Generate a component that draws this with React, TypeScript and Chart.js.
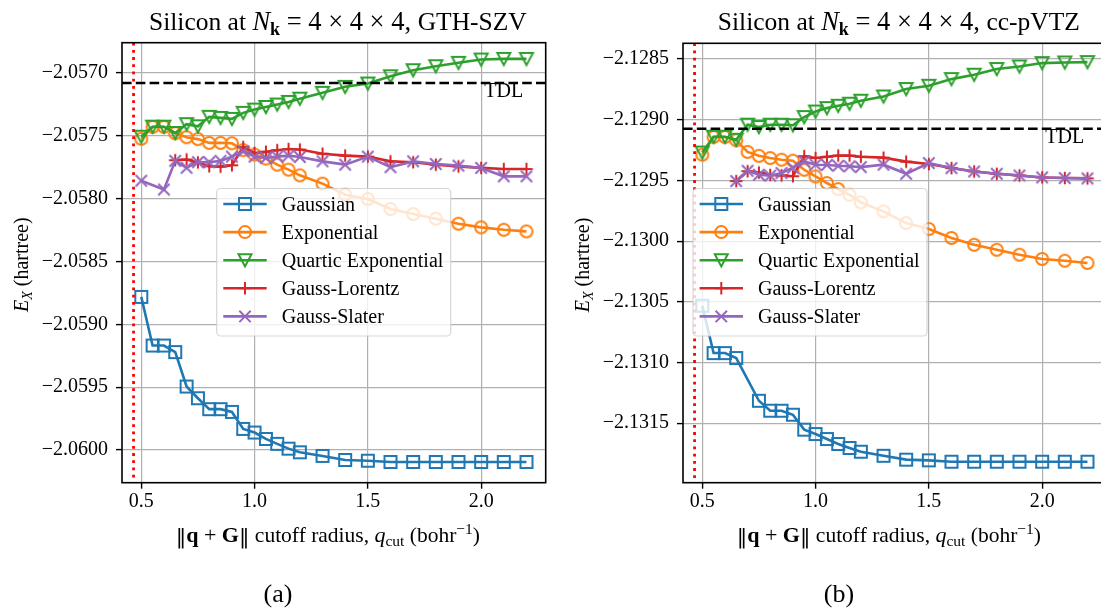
import React, { useEffect, useRef } from "react";
import { Chart, registerables } from "chart.js";

Chart.register(...registerables);

// Cutoff radii q_cut (bohr^-1) shared by every series
const qCut = [0.5, 0.55, 0.6, 0.65, 0.7, 0.75, 0.8, 0.85, 0.9, 0.95, 1.0, 1.05, 1.1, 1.15, 1.2, 1.3, 1.4, 1.5, 1.6, 1.7, 1.8, 1.9, 2.0, 2.1, 2.2];
const xTicks = [0.5, 1.0, 1.5, 2.0];
const xRange = [0.415, 2.285];

const seriesNames = ["Gaussian", "Exponential", "Quartic Exponential", "Gauss-Lorentz", "Gauss-Slater"];
const seriesColors = ["#1f77b4", "#ff7f0e", "#2ca02c", "#d62728", "#9467bd"];
const seriesMarkers = ["square", "circle", "triangleDown", "plus", "x"];

// GTH-SZV exchange energies (hartree)
const szvGaussian = [-2.058782, -2.059169, -2.059169, -2.059221, -2.059495, -2.059588, -2.059675, -2.059675, -2.059697, -2.059832, -2.059861, -2.059912, -2.059951, -2.059989, -2.060018, -2.060047, -2.060079, -2.060085, -2.060095, -2.060095, -2.060095, -2.060095, -2.060095, -2.060095, -2.060095];
const szvExponential = [-2.057525, -2.05743, -2.05743, -2.05748, -2.057512, -2.057527, -2.057557, -2.057557, -2.05756, -2.057615, -2.05765, -2.057682, -2.05773, -2.05777, -2.057815, -2.057881, -2.057969, -2.058003, -2.058083, -2.058123, -2.05816, -2.0582, -2.058229, -2.058248, -2.058261];
const szvQuartic = [-2.057508, -2.057428, -2.057428, -2.057478, -2.057408, -2.057425, -2.05735, -2.057358, -2.057366, -2.057318, -2.057292, -2.057271, -2.057252, -2.057231, -2.057205, -2.057159, -2.057111, -2.057085, -2.057027, -2.056979, -2.056947, -2.05692, -2.056894, -2.056889, -2.056889];
const szvGaussLorentz = [null, null, null, -2.057695, -2.057689, -2.057712, -2.057743, -2.057746, -2.057735, -2.05759, -2.057637, -2.057627, -2.057615, -2.057606, -2.05761, -2.057643, -2.057658, -2.057666, -2.057704, -2.057711, -2.05773, -2.057744, -2.057756, -2.057765, -2.057765];
const szvGaussSlater = [-2.057858, null, -2.057928, -2.0577, -2.057755, -2.05771, -2.057711, -2.0577, -2.057666, -2.057623, -2.057666, -2.057677, -2.057666, -2.057658, -2.057669, -2.057704, -2.05773, -2.057666, -2.05775, -2.057704, -2.057725, -2.057738, -2.057756, -2.057823, -2.057823];
const szvTDL = -2.05708;
const szvYTicks = [-2.06, -2.0595, -2.059, -2.0585, -2.058, -2.0575, -2.057];
const szvYRange = [-2.06026, -2.05676];

// cc-pVTZ exchange energies (hartree)
const pvtzGaussian = [-2.130532, -2.130922, -2.130922, -2.130963, null, -2.131315, -2.131397, -2.131397, -2.13143, -2.131553, -2.131589, -2.13163, -2.131671, -2.131704, -2.131735, -2.131768, -2.1318, -2.131806, -2.131817, -2.131817, -2.131817, -2.131817, -2.131817, -2.131817, -2.131817];
const pvtzExponential = [-2.129288, -2.129142, -2.129142, -2.129169, -2.129265, -2.129297, -2.129315, -2.129329, -2.129337, -2.129412, -2.129467, -2.129521, -2.129571, -2.129618, -2.129681, -2.129755, -2.129851, -2.1299, -2.129974, -2.13003, -2.130071, -2.130112, -2.130147, -2.130161, -2.13018];
const pvtzQuartic = [-2.12927, -2.12914, -2.12914, -2.129165, -2.12904, -2.12906, -2.129041, -2.129041, -2.129045, -2.128978, -2.128932, -2.128904, -2.128885, -2.128868, -2.128843, -2.128808, -2.128747, -2.12872, -2.128665, -2.128629, -2.128582, -2.128561, -2.128533, -2.128528, -2.128525];
const pvtzGaussLorentz = [null, null, null, -2.129505, -2.129424, -2.129435, -2.129455, -2.129458, -2.129465, -2.1293, -2.129315, -2.129305, -2.129295, -2.129295, -2.129305, -2.129312, -2.129345, -2.129365, -2.129398, -2.129426, -2.129445, -2.129459, -2.129475, -2.12948, -2.129483];
const pvtzGaussSlater = [null, null, null, -2.129505, -2.12942, -2.129453, -2.129461, -2.129439, -2.129395, -2.129343, -2.12937, -2.129372, -2.129379, -2.129383, -2.12939, -2.12937, -2.129445, -2.129357, -2.129398, -2.129426, -2.129445, -2.129459, -2.129475, -2.12948, -2.129483];
const pvtzTDL = -2.129074;
const pvtzYTicks = [-2.1315, -2.131, -2.1305, -2.13, -2.1295, -2.129, -2.1285];
const pvtzYRange = [-2.13199, -2.12837];

// Vertical marker for the smallest cutoff considered
const cutoffLine = 0.466;

const SERIF = "'Liberation Serif', 'Times New Roman', serif";
const MATH = "'DejaVu Serif', serif";
const W = 560;
const H = 609;
const LINE_W = 2.6;

function drawMarker(ctx: CanvasRenderingContext2D, kind: string, cx: number, cy: number, color: string) {
  ctx.save();
  ctx.strokeStyle = color;
  ctx.lineWidth = 2;
  ctx.lineJoin = "miter";
  ctx.beginPath();
  if (kind === "square") {
    ctx.rect(cx - 6, cy - 6, 12, 12);
  } else if (kind === "circle") {
    ctx.arc(cx, cy, 6, 0, Math.PI * 2);
  } else if (kind === "triangleDown") {
    ctx.moveTo(cx - 6.5, cy - 6);
    ctx.lineTo(cx + 6.5, cy - 6);
    ctx.lineTo(cx, cy + 6.2);
    ctx.closePath();
  } else if (kind === "plus") {
    ctx.moveTo(cx - 6.3, cy);
    ctx.lineTo(cx + 6.3, cy);
    ctx.moveTo(cx, cy - 6.3);
    ctx.lineTo(cx, cy + 6.3);
  } else {
    ctx.moveTo(cx - 5.7, cy - 5.7);
    ctx.lineTo(cx + 5.7, cy + 5.7);
    ctx.moveTo(cx - 5.7, cy + 5.7);
    ctx.lineTo(cx + 5.7, cy - 5.7);
  }
  ctx.stroke();
  ctx.restore();
}

function markerImage(kind: string, color: string) {
  const c = document.createElement("canvas");
  c.width = 20;
  c.height = 20;
  const ctx = c.getContext("2d")!;
  drawMarker(ctx, kind, 10, 10, color);
  return c;
}

type Run = { t: string; f: string; dy?: number };

function drawRuns(ctx: CanvasRenderingContext2D, runs: Run[], x: number, y: number, align: "center" | "left") {
  ctx.save();
  ctx.textBaseline = "alphabetic";
  ctx.textAlign = "left";
  let total = 0;
  const widths = runs.map((r) => {
    ctx.font = r.f;
    const w = ctx.measureText(r.t).width;
    total += w;
    return w;
  });
  let cx = align === "center" ? x - total / 2 : x;
  runs.forEach((r, i) => {
    ctx.font = r.f;
    ctx.fillText(r.t, cx, y + (r.dy || 0));
    cx += widths[i];
  });
  ctx.restore();
}

const fmtY = (v: number) => (v < 0 ? "\u2212" : "") + Math.abs(v).toFixed(4);

type PanelProps = {
  left: number;
  top: number;
  basis: string;
  panelTag: string;
  series: (number | null)[][];
  tdl: number;
  yTicks: number[];
  yRange: number[];
  legendLeft: number;
};

function Panel(props: PanelProps) {
  const ref = useRef<HTMLCanvasElement | null>(null);

  useEffect(() => {
    const canvas = ref.current;
    if (!canvas) return;

    const decor = {
      id: "decor",
      afterDatasetsDraw(chart: any) {
        const ctx: CanvasRenderingContext2D = chart.ctx;
        const ca = chart.chartArea;
        const xs = chart.scales.x;
        const ys = chart.scales.y;
        ctx.save();
        ctx.beginPath();
        ctx.rect(ca.left, ca.top, ca.right - ca.left, ca.bottom - ca.top);
        ctx.clip();
        // thermodynamic limit reference
        const yT = ys.getPixelForValue(props.tdl);
        ctx.strokeStyle = "#000";
        ctx.lineWidth = 2.6;
        ctx.setLineDash([9.6, 4.2]);
        ctx.beginPath();
        ctx.moveTo(ca.left, yT);
        ctx.lineTo(ca.right, yT);
        ctx.stroke();
        // cutoff marker
        const xC = xs.getPixelForValue(cutoffLine);
        ctx.strokeStyle = "#ff0000";
        ctx.lineWidth = 2.8;
        ctx.setLineDash([2.8, 4.4]);
        ctx.beginPath();
        ctx.moveTo(xC, ca.top);
        ctx.lineTo(xC, ca.bottom);
        ctx.stroke();
        ctx.setLineDash([]);
        ctx.restore();

        // frame
        ctx.save();
        ctx.strokeStyle = "#000";
        ctx.lineWidth = 1.6;
        ctx.strokeRect(ca.left, ca.top, ca.right - ca.left, ca.bottom - ca.top);
        ctx.restore();

        // TDL label
        ctx.save();
        ctx.font = `20px ${SERIF}`;
        ctx.fillStyle = "#000";
        ctx.textAlign = "center";
        ctx.textBaseline = "alphabetic";
        ctx.fillText("TDL", xs.getPixelForValue(2.1), yT + 14);
        ctx.restore();

        // legend
        const lx = props.legendLeft;
        const ly = 188.5;
        const lw = 234;
        const lh = 147.5;
        ctx.save();
        ctx.beginPath();
        ctx.roundRect(lx, ly, lw, lh, 4);
        ctx.fillStyle = "rgba(255,255,255,0.8)";
        ctx.fill();
        ctx.strokeStyle = "rgba(204,204,204,0.8)";
        ctx.lineWidth = 1.2;
        ctx.stroke();
        seriesNames.forEach((name, i) => {
          const ey = ly + 15.5 + i * 28.1;
          ctx.strokeStyle = seriesColors[i];
          ctx.lineWidth = LINE_W;
          ctx.beginPath();
          ctx.moveTo(lx + 6.6, ey);
          ctx.lineTo(lx + 50, ey);
          ctx.stroke();
          drawMarker(ctx, seriesMarkers[i], lx + 28.3, ey, seriesColors[i]);
          ctx.fillStyle = "#000";
          ctx.font = `20px ${SERIF}`;
          ctx.textAlign = "left";
          ctx.textBaseline = "alphabetic";
          ctx.fillText(name, lx + 65, ey + 6.8);
        });
        ctx.restore();
      },
      afterDraw(chart: any) {
        const ctx: CanvasRenderingContext2D = chart.ctx;
        const ca = chart.chartArea;
        const mid = (ca.left + ca.right) / 2;
        ctx.save();
        ctx.fillStyle = "#000";
        // title
        drawRuns(
          ctx,
          [
            { t: "Silicon at ", f: `25.5px ${SERIF}` },
            { t: "N", f: `italic 26.5px ${SERIF}` },
            { t: "k", f: `bold 18px ${SERIF}`, dy: 5 },
            { t: " = 4 \u00d7 4 \u00d7 4, ", f: `26.5px ${SERIF}` },
            { t: props.basis, f: `25.5px ${SERIF}` },
          ],
          mid + 4,
          30,
          "center"
        );
        // x label
        drawRuns(
          ctx,
          [
            { t: "\u2016", f: `21px ${MATH}`, dy: 1 },
            { t: "q", f: `bold 22px ${SERIF}` },
            { t: " + ", f: `22px ${SERIF}` },
            { t: "G", f: `bold 22px ${SERIF}` },
            { t: "\u2016", f: `21px ${MATH}`, dy: 1 },
            { t: " cutoff radius, ", f: `21.5px ${SERIF}` },
            { t: "q", f: `italic 22px ${SERIF}` },
            { t: "cut", f: `15.5px ${SERIF}`, dy: 4 },
            { t: " (bohr", f: `21.5px ${SERIF}` },
            { t: "\u22121", f: `15.5px ${SERIF}`, dy: -8 },
            { t: ")", f: `21.5px ${SERIF}` },
          ],
          mid - 6,
          542,
          "center"
        );
        // y label
        ctx.save();
        ctx.translate(27.5, (ca.top + ca.bottom) / 2 + 2);
        ctx.rotate(-Math.PI / 2);
        drawRuns(
          ctx,
          [
            { t: "E", f: `italic 20px ${SERIF}` },
            { t: "X", f: `italic 14px ${SERIF}`, dy: 4 },
            { t: " (hartree)", f: `20px ${SERIF}` },
          ],
          0,
          0,
          "center"
        );
        ctx.restore();
        // panel tag
        drawRuns(ctx, [{ t: props.panelTag, f: `26px ${SERIF}` }], 278, 602, "center");
        ctx.restore();
      },
    };

    const datasets = props.series.map((vals, i) => ({
      label: seriesNames[i],
      data: qCut.map((x, j) => ({ x, y: vals[j] })),
      borderColor: seriesColors[i],
      backgroundColor: seriesColors[i],
      borderWidth: LINE_W,
      pointStyle: markerImage(seriesMarkers[i], seriesColors[i]),
      pointRadius: 6,
      pointHoverRadius: 6,
      spanGaps: true,
      tension: 0,
      fill: false,
      order: seriesNames.length - i,
    }));

    const chart = new Chart(canvas, {
      type: "line",
      data: { datasets } as any,
      options: {
        animation: false,
        responsive: false,
        devicePixelRatio: 1,
        events: [],
        layout: { padding: { top: props.top, right: 14.3, bottom: H - 482.7 - 40, left: 0 } },
        plugins: {
          legend: { display: false },
          tooltip: { enabled: false },
          title: { display: false },
        },
        scales: {
          x: {
            type: "linear",
            min: xRange[0],
            max: xRange[1],
            afterBuildTicks: (s: any) => {
              s.ticks = xTicks.map((v) => ({ value: v }));
            },
            afterFit: (s: any) => {
              s.height = 40;
            },
            grid: { color: "#b0b0b0", lineWidth: 1.2, drawTicks: true, tickLength: 6, tickColor: "#000", tickWidth: 1.4 },
            border: { display: false },
            ticks: {
              font: { family: SERIF, size: 20 },
              color: "#000",
              padding: 1,
              maxRotation: 0,
              autoSkip: false,
              callback: (v: any) => Number(v).toFixed(1),
            },
          },
          y: {
            type: "linear",
            min: props.yRange[0],
            max: props.yRange[1],
            afterBuildTicks: (s: any) => {
              s.ticks = props.yTicks.map((v) => ({ value: v }));
            },
            afterFit: (s: any) => {
              s.width = 122;
            },
            grid: { color: "#b0b0b0", lineWidth: 1.2, drawTicks: true, tickLength: 6, tickColor: "#000", tickWidth: 1.4 },
            border: { display: false },
            ticks: {
              font: { family: SERIF, size: 20 },
              color: "#000",
              padding: 8,
              autoSkip: false,
              callback: (v: any) => fmtY(Number(v)),
            },
          },
        },
      } as any,
      plugins: [decor],
    });

    return () => chart.destroy();
  }, []);

  return (
    <canvas
      ref={ref}
      width={W}
      height={H}
      style={{ position: "absolute", left: props.left, top: 0, width: W, height: H, display: "block" }}
    />
  );
}

export default function App() {
  return (
    <div
      style={{
        position: "fixed",
        left: 0,
        top: 0,
        width: 1101,
        height: 609,
        overflow: "hidden",
        background: "#fff",
      }}
    >
      <Panel
        left={0}
        top={42.7}
        basis="GTH-SZV"
        panelTag="(a)"
        series={[szvGaussian, szvExponential, szvQuartic, szvGaussLorentz, szvGaussSlater]}
        tdl={szvTDL}
        yTicks={szvYTicks}
        yRange={szvYRange}
        legendLeft={216.7}
      />
      <Panel
        left={560.7}
        top={43.3}
        basis="cc-pVTZ"
        panelTag="(b)"
        series={[pvtzGaussian, pvtzExponential, pvtzQuartic, pvtzGaussLorentz, pvtzGaussSlater]}
        tdl={pvtzTDL}
        yTicks={pvtzYTicks}
        yRange={pvtzYRange}
        legendLeft={132}
      />
    </div>
  );
}
